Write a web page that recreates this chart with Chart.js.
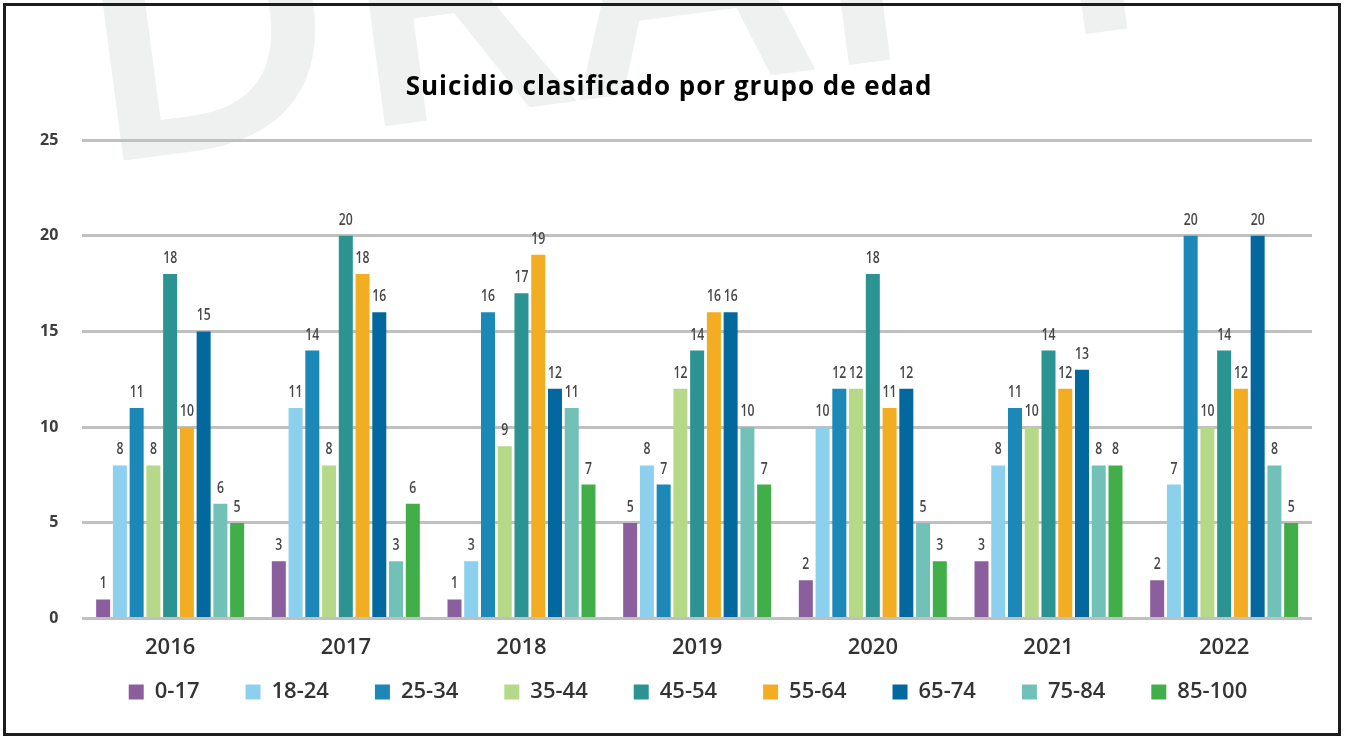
<!DOCTYPE html>
<html>
<head>
<meta charset="utf-8">
<title>Suicidio clasificado por grupo de edad</title>
<script src="https://cdn.jsdelivr.net/npm/chart.js@4.4.1/dist/chart.umd.min.js"></script>
<style>
  html, body { margin: 0; padding: 0; background: #fff; }
  #wrap { position: relative; width: 1345px; height: 740px; }
  #frame {
    position: absolute; left: 3px; top: 3px; width: 1338px; height: 733px;
    border: 3px solid #1d1d1d; box-sizing: border-box; pointer-events: none;
  }
</style>
</head>
<body>
<div id="wrap">
  <canvas id="grafico" width="1345" height="740"></canvas>
  <div id="frame"></div>
</div>
<script>
// años y grupos de edad
let years = ['2016', '2017', '2018', '2019', '2020', '2021', '2022'];
let age_groups = ['0-17', '18-24', '25-34', '35-44', '45-54', '55-64', '65-74', '75-84', '85-100'];
let group_colors = ['#8b5f9e', '#8dd0ee', '#1b88b8', '#b5d889', '#2c9393', '#f2ad23', '#03689e', '#72c1b9', '#41ae4a'];

// casos por grupo, un valor por año
let g_0_17   = [1, 3, 1, 5, 2, 3, 2];
let g_18_24  = [8, 11, 3, 8, 10, 8, 7];
let g_25_34  = [11, 14, 16, 7, 12, 11, 20];
let g_35_44  = [8, 8, 9, 12, 12, 10, 10];
let g_45_54  = [18, 20, 17, 14, 18, 14, 14];
let g_55_64  = [10, 18, 19, 16, 11, 12, 12];
let g_65_74  = [15, 16, 12, 16, 12, 13, 20];
let g_75_84  = [6, 3, 11, 10, 5, 8, 8];
let g_85_100 = [5, 6, 7, 7, 3, 8, 5];

let y_ticks = [0, 5, 10, 15, 20, 25];

let chart_title = 'Suicidio clasificado por grupo de edad';

let group_values = [g_0_17, g_18_24, g_25_34, g_35_44, g_45_54, g_55_64, g_65_74, g_75_84, g_85_100];

let datasets = age_groups.map((name, i) => ({
  label: name,
  data: group_values[i],
  backgroundColor: group_colors[i],
  borderWidth: 0,
  categoryPercentage: 0.858,
  barPercentage: 0.836
}));

// marca de agua y título
const background = {
  id: 'background',
  beforeDraw(chart) {
    const ctx = chart.ctx;
    ctx.save();
    ctx.fillStyle = '#eff0f0';
    ctx.font = '600 360px "Open Sans", sans-serif';
    ctx.textBaseline = 'alphabetic';
    ctx.translate(90, 165);
    ctx.rotate(-7.5 * Math.PI / 180);
    ctx.fillText('DRAFT', 0, 0);
    ctx.restore();

    ctx.save();
    ctx.fillStyle = '#000';
    ctx.font = '700 26px "Open Sans", sans-serif';
    ctx.letterSpacing = '1px';
    ctx.textAlign = 'center';
    ctx.textBaseline = 'middle';
    ctx.fillText(chart_title, 669, 88);
    ctx.restore();
  }
};

// número encima de cada barra (letra estrecha)
const valueLabels = {
  id: 'valueLabels',
  afterDatasetsDraw(chart) {
    const ctx = chart.ctx;
    ctx.save();
    ctx.font = '600 17px "Open Sans", sans-serif';
    ctx.fillStyle = '#474747';
    ctx.textAlign = 'center';
    ctx.textBaseline = 'alphabetic';
    chart.data.datasets.forEach((ds, i) => {
      chart.getDatasetMeta(i).data.forEach((bar, j) => {
        ctx.save();
        ctx.translate(bar.x, bar.y - 11);
        ctx.scale(0.72, 1);
        ctx.fillText(ds.data[j], 0, 0);
        ctx.restore();
      });
    });
    ctx.restore();
  }
};

// leyenda más baja y más cerca de los años
const legendShift = {
  id: 'legendShift',
  afterInit(chart) {
    const legend = chart.legend;
    const fit = legend.fit;
    legend.fit = function () {
      fit.call(this);
      this.height -= 13;
    };
  },
  afterLayout(chart) {
    const legend = chart.legend;
    legend.top -= 34;
    legend.bottom -= 34;
    legend.left += 24;
    legend.right += 24;
  }
};

let ctx = document.getElementById('grafico').getContext('2d');
let myChart = new Chart(ctx, {
  type: 'bar',
  data: { labels: years, datasets: datasets },
  plugins: [background, valueLabels, legendShift],
  options: {
    responsive: false,
    animation: false,
    layout: { padding: { left: 16, right: 33, top: 140, bottom: 6 } },
    plugins: {
      title: { display: false },
      legend: {
        position: 'bottom',
        labels: {
          boxWidth: 15,
          boxHeight: 15,
          padding: 46,
          color: '#333',
          font: { family: '"Open Sans", sans-serif', size: 22, weight: 600 }
        }
      },
      tooltip: { enabled: false }
    },
    scales: {
      x: {
        grid: { display: false },
        border: { display: false },
        ticks: {
          color: '#333',
          padding: 8,
          font: { family: '"Open Sans", sans-serif', size: 22, weight: 600 }
        }
      },
      y: {
        min: 0,
        max: 25,
        afterBuildTicks: (axis) => { axis.ticks = y_ticks.map(v => ({ value: v })); },
        grid: { color: '#c0c0c0', lineWidth: 3, drawTicks: false },
        border: { display: false },
        ticks: {
          color: '#3d3d3d',
          padding: 24,
          font: { family: '"Open Sans", sans-serif', size: 16, weight: 700 }
        }
      }
    }
  }
});
</script>
</body>
</html>
